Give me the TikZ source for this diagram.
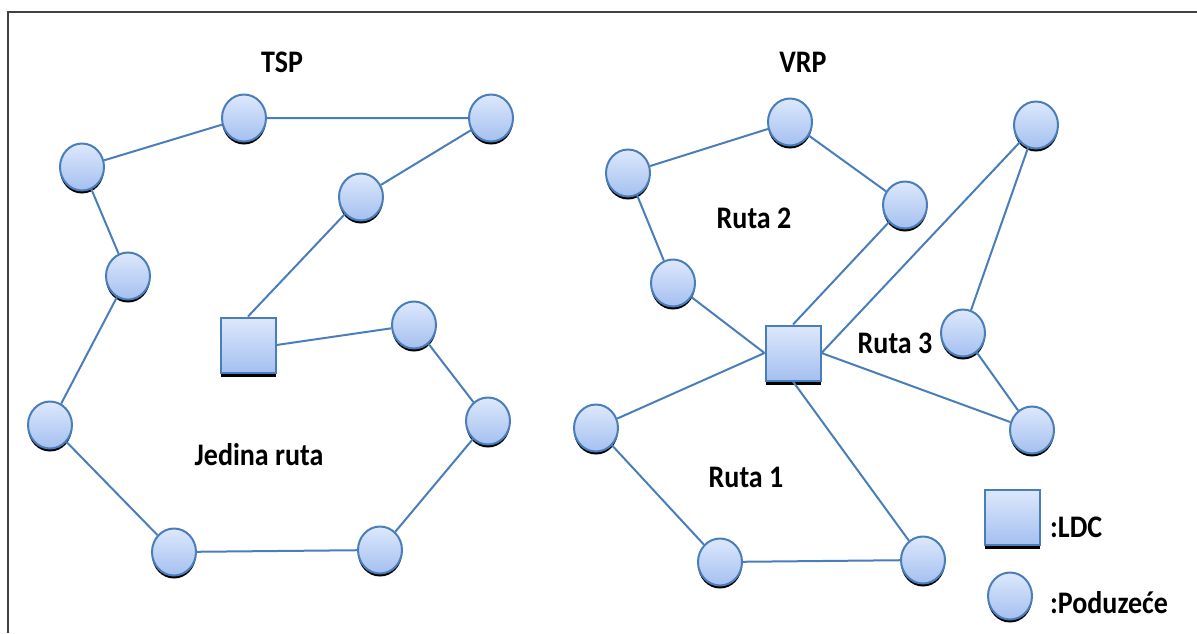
\documentclass[tikz,border=0pt]{standalone}
\usepackage{fontspec}
\usepackage{graphicx}
\setmainfont{Carlito}
\usetikzlibrary{shapes.geometric,shadows}
\definecolor{edgeblue}{HTML}{4A7EBB}
\definecolor{topfill}{HTML}{DDE8FC}
\definecolor{botfill}{HTML}{A4C0F0}
\definecolor{framegray}{HTML}{404040}
\newcommand{\tallt}[1]{\scalebox{1}[1.12]{#1}}
\tikzset{
  firm/.style={ellipse, minimum width=44pt, minimum height=47pt, inner sep=0pt,
    draw=edgeblue, line width=2pt, top color=topfill, bottom color=botfill,
    drop shadow={shadow xshift=0pt, shadow yshift=-3pt, opacity=1, fill=black}},
  ldc/.style={rectangle, minimum width=55pt, minimum height=55pt, inner sep=0pt,
    draw=edgeblue, line width=2pt, top color=topfill, bottom color=botfill,
    drop shadow={shadow xshift=0pt, shadow yshift=-4pt, opacity=1, fill=black}},
  link/.style={draw=edgeblue, line width=2pt},
  lbl/.style={font=\bfseries\fontsize{28}{30}\selectfont, inner sep=0pt}
}
\begin{document}
\begin{tikzpicture}[x=1pt,y=-1pt]
\useasboundingbox (0,0) rectangle (1197,633);
\draw[framegray, line width=1.5pt] (8,633) -- (8,12) -- (1197,12);
% TSP
\node[lbl] (tsp) at (282,62) {\tallt{TSP}};
\node[firm] (c1) at (82,167) {};
\node[firm] (c2) at (244,118) {};
\node[firm] (c3) at (491,118) {};
\node[firm] (c4) at (361,197) {};
\node[firm] (c5) at (128,276) {};
\node[ldc] (s1) at (248,345) {};
\node[firm] (c6) at (414,325) {};
\node[firm] (c7) at (50,425) {};
\node[firm] (c8) at (488,421) {};
\node[firm] (c9) at (174,552) {};
\node[firm] (c10) at (380,550) {};
\node[lbl] (jr) at (259,455) {\tallt{Jedina ruta}};
\path[link] (c1) -- (c2) (c2) -- (c3) (c3) -- (c4) (c4) -- (s1.north) (s1.east) -- (c6)
  (c6) -- (c8) (c8) -- (c10) (c10) -- (c9) (c9) -- (c7) (c7) -- (c5) (c5) -- (c1);
% VRP
\node[lbl] (vrp) at (803,62) {\tallt{VRP}};
\node[firm] (d1) at (628,173) {};
\node[firm] (d2) at (790,122) {};
\node[firm] (d3) at (905,205) {};
\node[firm] (d4) at (673,283) {};
\node[ldc] (s2) at (793,353) {};
\node[firm] (d5) at (1036,125) {};
\node[firm] (d6) at (963,333) {};
\node[firm] (d7) at (1032,430) {};
\node[firm] (d8) at (596,428) {};
\node[firm] (d9) at (720,562) {};
\node[firm] (d10) at (923,560) {};
\node[lbl] (r2) at (754,218) {\tallt{Ruta 2}};
\node[lbl] (r3) at (895,343) {\tallt{Ruta 3}};
\node[lbl] (r1) at (746,477) {\tallt{Ruta 1}};
\path[link] (d1) -- (d2) (d2) -- (d3) (d3) -- (s2.north) (s2.west) -- (d4) (d4) -- (d1)
  (s2.east) -- (d5) (d5) -- (d6) (d6) -- (d7) (d7) -- (s2.east)
  (s2.west) -- (d8) (d8) -- (d9) (d9) -- (d10) (d10) -- (s2.south);
% legend
\node[ldc] (lsq) at (1012,517) {};
\node[lbl, anchor=west] (lt1) at (1050,527) {\tallt{:LDC}};
\node[firm] (lci) at (1010,596) {};
\node[lbl, anchor=west] (lt2) at (1050,603) {\tallt{:Poduzeće}};
\end{tikzpicture}
\end{document}
